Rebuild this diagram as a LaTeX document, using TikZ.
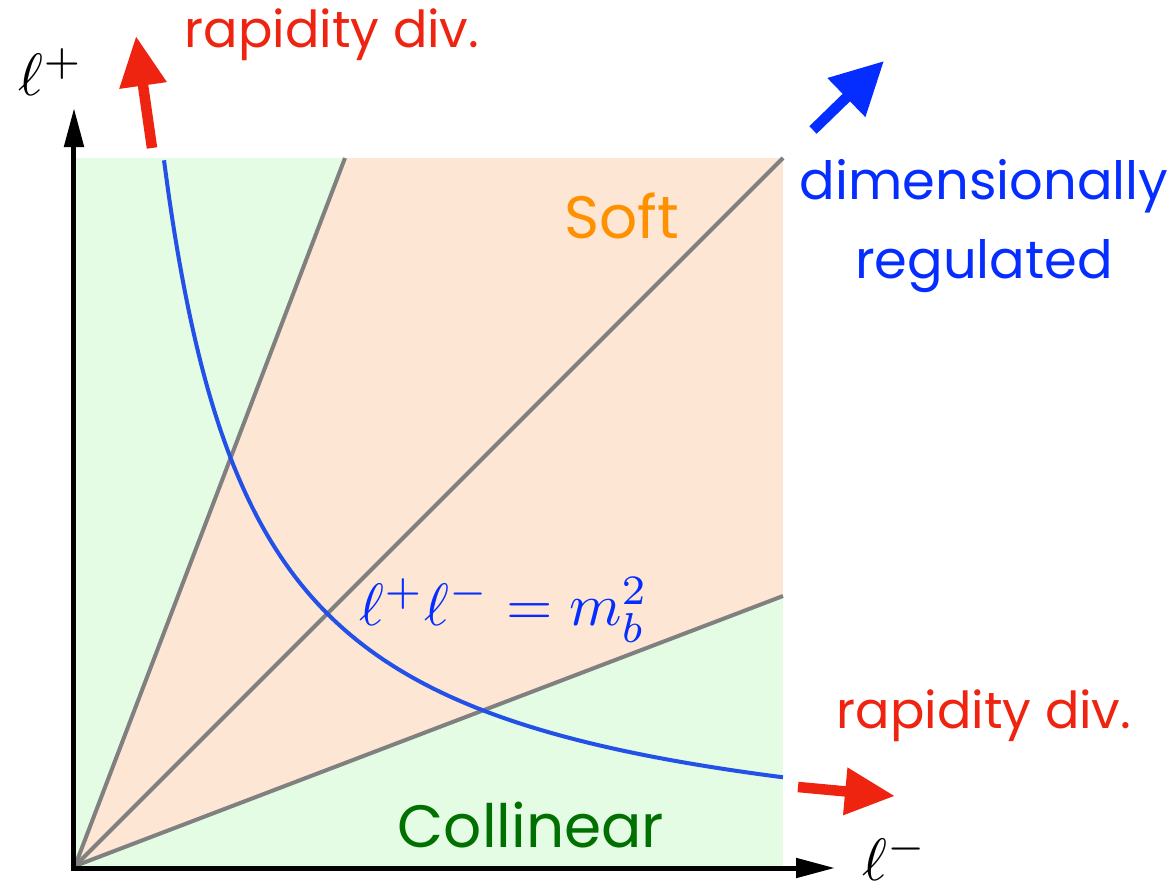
\documentclass[tikz,border=0pt]{standalone}
\usepackage{fontspec}
\newfontfamily\labelfont{Poppins}
\usepackage{xcolor}
\usetikzlibrary{arrows.meta, calc}
\definecolor{collgreen}{RGB}{228,251,228}
\definecolor{softfill}{RGB}{253,231,212}
\definecolor{raygray}{RGB}{128,128,128}
\definecolor{curveblue}{RGB}{35,80,230}
\definecolor{labelblue}{RGB}{5,45,255}
\definecolor{labelred}{RGB}{238,36,17}
\definecolor{softtext}{RGB}{255,145,0}
\definecolor{colltext}{RGB}{0,112,0}
\tikzset{
  axis/.style={line width=1mm, -{Triangle[length=7.8mm, width=3.8mm]}},
  ray/.style={line width=0.8mm, draw=raygray},
  hyper/.style={line width=0.8mm, draw=curveblue},
  bigarrow/.style={line width=2.1mm, -{Triangle[length=10mm, width=9mm]}},
  divlabel/.style={text=labelred, font=\labelfont\fontsize{29}{43}\selectfont},
  dimlabel/.style={text=labelblue, align=center, font=\labelfont\fontsize{30}{45}\selectfont},
  region/.style={font=\labelfont\fontsize{34}{42}\selectfont},
  mathlabel/.style={scale=3.4, inner sep=0pt},
}

\begin{document}
\begin{tikzpicture}[x=0.2cm, y=0.2cm]
  \useasboundingbox (-7.5,-2.2) rectangle (110.1,86.6);

  % Regions
  \fill[collgreen] (0,0) rectangle (70.8,70.8);
  \fill[softfill] (0,0) -- (27,70.8) -- (70.8,70.8) -- (70.8,27) -- cycle;

  % Rays from the origin
  \coordinate (O) at (0,0);
  \draw[ray] (O) -- (27,70.8);
  \draw[ray] (O) -- (70.8,70.8);
  \draw[ray] (O) -- (70.8,27);

  % Hyperbola
  \draw[hyper] plot[domain=8.9:70.8, samples=120, smooth] (\x, {652/(\x+0.3)-0.3});

  % Axes
  \coordinate (yend) at (-0.1,75.8);
  \coordinate (xend) at (76.0,-0.2);
  \draw[axis] (-0.1,-0.45) -- (yend);
  \draw[axis] (-0.35,-0.2) -- (xend);
  \node[mathlabel] (lplus) at (-2.4,79.4) {$\ell^+$};
  \node[mathlabel, anchor=north west] (lminus) at (78.6,3.4) {$\ell^-$};

  % Divergence arrows
  \coordinate (uptail) at (7.7,71.8);
  \coordinate (uptip) at (6.1,83.0);
  \coordinate (righttail) at (72.3,7.9);
  \coordinate (righttip) at (82.0,7.0);
  \coordinate (dimtail) at (73.8,73.6);
  \coordinate (dimtip) at (80.9,80.5);
  \draw[bigarrow, labelred] (uptail) -- (uptip);
  \draw[bigarrow, labelred] (righttail) -- (righttip);
  \draw[bigarrow, labelblue, -{Triangle[length=10.5mm, width=10.3mm]}] (dimtail) -- (dimtip);

  % Labels
  \node[divlabel] (divtop) at (25.7,83.1) {rapidity div.};
  \node[divlabel] (divright) at (90.9,15.0) {rapidity div.};
  \node[dimlabel] (dimreg) at (90.9,64.0) {dimensionally\\regulated};
  \node[region, text=softtext] (soft) at (54.7,65.0) {Soft};
  \node[region, text=colltext] (coll) at (45.6,4.1) {Collinear};
  \node[mathlabel, text=labelblue] (mass) at (42.9,25.6) {$\ell^+\ell^- = m_b^2$};
\end{tikzpicture}
\end{document}
